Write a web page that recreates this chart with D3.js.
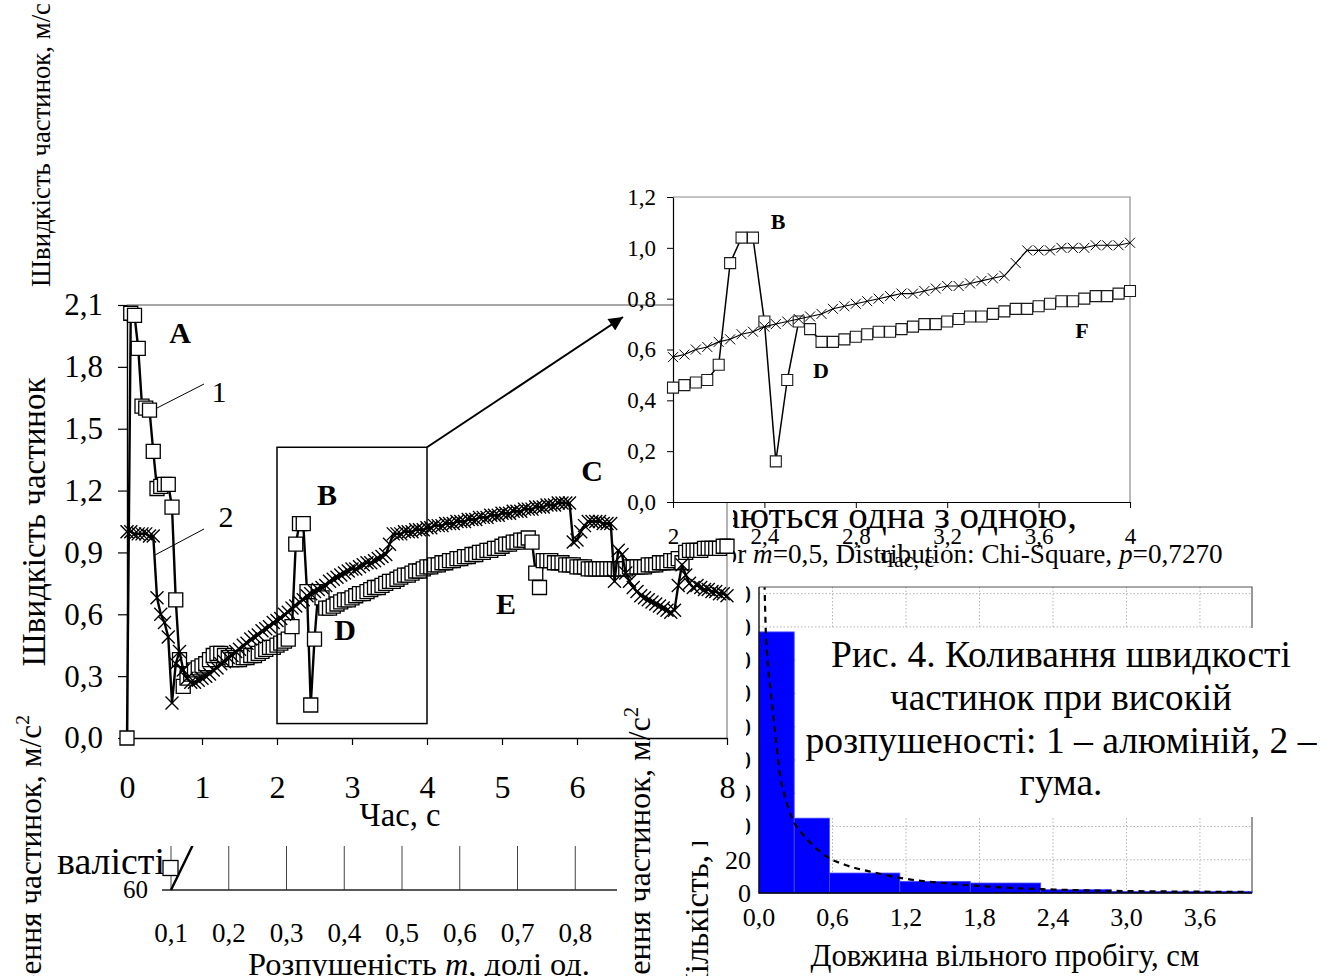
<!DOCTYPE html>
<html lang="uk">
<head>
<meta charset="utf-8">
<title>Швидкість частинок</title>
<script src="https://cdn.jsdelivr.net/npm/d3@7/dist/d3.min.js"></script>
<style>
  html, body { margin: 0; padding: 0; background: #fff; }
  svg { display: block; }
</style>
</head>
<body>
<svg id="chart" width="1329" height="976"></svg>
<script>
// ---------------- data ----------------
// Sampling step of the particle-speed record, s
const timeStep = 0.05;

// Particle speed, m/s — curve 1 (aluminium)
const aluminiumSpeed = [
  0.00, 2.06, 2.05, 1.89, 1.61, 1.60, 1.59, 1.39, 1.21, 1.22,
  1.23, 1.23, 1.12, 0.67, 0.38, 0.25, 0.29, 0.31, 0.33, 0.34,
  0.35, 0.36, 0.38, 0.40, 0.41, 0.41, 0.40, 0.39, 0.38, 0.38,
  0.38, 0.39, 0.39, 0.40, 0.40, 0.41, 0.42, 0.43, 0.44, 0.44,
  0.45, 0.46, 0.47, 0.48, 0.54, 0.94, 1.04, 1.04, 0.71, 0.16,
  0.48, 0.71, 0.68, 0.63, 0.63, 0.64, 0.65, 0.66, 0.67, 0.67,
  0.68, 0.69, 0.70, 0.70, 0.71, 0.72, 0.73, 0.73, 0.74, 0.75,
  0.76, 0.76, 0.77, 0.78, 0.79, 0.79, 0.80, 0.81, 0.81, 0.82,
  0.83, 0.83, 0.84, 0.84, 0.85, 0.85, 0.86, 0.86, 0.87, 0.87,
  0.88, 0.88, 0.89, 0.89, 0.90, 0.90, 0.91, 0.91, 0.92, 0.92,
  0.93, 0.94, 0.94, 0.95, 0.95, 0.96, 0.96, 0.97, 0.95, 0.80,
  0.73, 0.86, 0.86, 0.86, 0.85, 0.85, 0.85, 0.84, 0.84, 0.84,
  0.83, 0.83, 0.83, 0.82, 0.82, 0.82, 0.82, 0.82, 0.82, 0.82,
  0.82, 0.82, 0.82, 0.82, 0.83, 0.83, 0.83, 0.83, 0.83, 0.84,
  0.84, 0.84, 0.85, 0.85, 0.85, 0.86, 0.86, 0.87, 0.85, 0.90,
  0.91, 0.91, 0.91, 0.91, 0.92, 0.92, 0.92, 0.92, 0.92, 0.93,
  0.93
];

// Particle speed, m/s — curve 2 (rubber)
const rubberSpeed = [
  1.00, 1.00, 0.99, 0.99, 0.99, 0.99, 0.98, 0.98, 0.68, 0.60,
  0.56, 0.49, 0.17, 0.36, 0.42, 0.33, 0.29, 0.27, 0.27, 0.28,
  0.29, 0.30, 0.31, 0.33, 0.34, 0.36, 0.37, 0.39, 0.40, 0.42,
  0.43, 0.45, 0.46, 0.48, 0.49, 0.50, 0.52, 0.53, 0.54, 0.56,
  0.57, 0.58, 0.60, 0.61, 0.63, 0.64, 0.66, 0.67, 0.69, 0.70,
  0.71, 0.72, 0.73, 0.74, 0.76, 0.77, 0.78, 0.79, 0.80, 0.81,
  0.82, 0.82, 0.83, 0.84, 0.85, 0.85, 0.86, 0.87, 0.88, 0.89,
  0.94, 0.99, 0.99, 0.99, 1.00, 1.00, 1.00, 1.01, 1.01, 1.01,
  1.02, 1.02, 1.03, 1.03, 1.03, 1.04, 1.04, 1.04, 1.05, 1.05,
  1.05, 1.06, 1.06, 1.06, 1.07, 1.07, 1.07, 1.08, 1.08, 1.08,
  1.09, 1.09, 1.09, 1.10, 1.10, 1.10, 1.11, 1.11, 1.11, 1.12,
  1.12, 1.12, 1.13, 1.13, 1.13, 1.14, 1.14, 1.14, 1.14, 0.95,
  0.96, 1.00, 1.03, 1.05, 1.05, 1.05, 1.05, 1.04, 1.04, 1.04,
  0.76, 0.91, 0.89, 0.80, 0.76, 0.73, 0.71, 0.69, 0.68, 0.67,
  0.66, 0.65, 0.64, 0.63, 0.62, 0.61, 0.62, 0.74, 0.84, 0.79,
  0.75, 0.73, 0.74, 0.73, 0.72, 0.72, 0.71, 0.71, 0.70, 0.70,
  0.69
];

const speedTicks = [0, 0.3, 0.6, 0.9, 1.2, 1.5, 1.8, 2.1];
const timeTicks = [0, 1, 2, 3, 4, 5, 6, 8];

// Enlarged window: time, s and speed, m/s
const zoomTime = [2, 4];
const zoomSpeed = [0.07, 1.41];
const insetSpeedTicks = [0, 0.2, 0.4, 0.6, 0.8, 1.0, 1.2];
const insetTimeTicks = [2, 2.4, 2.8, 3.2, 3.6, 4];

// Free path length histogram
const pathBinEdges = [0, 0.2875, 0.575, 1.15, 1.725, 2.3, 2.875, 3.45, 4.025];
const pathCounts = [157, 45, 12, 7, 6, 2, 1, 1];
const pathTicks = [0, 0.6, 1.2, 1.8, 2.4, 3.0, 3.6];
const countTicks = [0, 20, 40, 60, 80, 100, 120, 140, 160, 180];
const fitPath = [0.045, 0.055, 0.07, 0.1, 0.13, 0.17, 0.22, 0.27, 0.35, 0.45, 0.55, 0.7, 0.9, 1.2, 1.5, 1.8, 2.1, 2.4, 2.8, 3.2, 3.6, 4.0];
const fitCount = [186, 158, 140, 118, 98, 72, 56, 45, 36, 28, 22, 17, 13, 8.5, 6, 4.2, 2.9, 2.1, 1.4, 1.0, 0.8, 0.6];

// Acceleration vs looseness (lower left)
const loosenessTicks = [0.1, 0.2, 0.3, 0.4, 0.5, 0.6, 0.7, 0.8, 0.9];
const looseLineM = [0.1, 0.2];
const looseLineA = [60, 83.8];
const looseMarkM = [0.1];
const looseMarkA = [64.4];

// ---------------- helpers ----------------
const SERIF = '"Liberation Serif", "Times New Roman", serif';
const comma = (d, p) => d.toFixed(p).replace(".", ",");
const svg = d3.select("#chart");
const defs = svg.append("defs");

function txt(parent, str, x, y, size, opts = {}) {
  const t = parent.append("text")
    .attr("x", x).attr("y", y)
    .attr("font-family", SERIF)
    .attr("font-size", size)
    .attr("fill", "#000")
    .attr("text-anchor", opts.anchor || "start");
  if (opts.weight) t.attr("font-weight", opts.weight);
  if (str !== null) t.text(str);
  return t;
}
// scale the font so that characters [from, to) occupy `span` pixels
function fitSpan(t, span, from = 0, to = null) {
  const n = t.node();
  const count = to === null ? n.getNumberOfChars() - from : to - from;
  const len = n.getSubStringLength(from, count);
  t.attr("font-size", parseFloat(t.attr("font-size")) * span / len);
}
function clipRect(id, x, y, w, h) {
  defs.append("clipPath").attr("id", id)
    .append("rect").attr("x", x).attr("y", y).attr("width", w).attr("height", h);
  return `url(#${id})`;
}
function vText(parent, x, y, size, anchor) {
  return parent.append("text")
    .attr("transform", `translate(${x},${y}) rotate(-90)`)
    .attr("font-family", SERIF).attr("font-size", size)
    .attr("fill", "#000").attr("text-anchor", anchor);
}
// rotated "Прискорення частинок, м/с²" whose end sits at (x, yEnd)
function accelLabel(parent, x, yEnd, span) {
  const t = vText(parent, x, yEnd, 30, "end");
  t.append("tspan").text("Прискорення частинок, м/с");
  const sup = t.append("tspan").attr("dy", -12).text("2");
  fitSpan(t, span, 7, 25);
  sup.attr("font-size", parseFloat(t.attr("font-size")) * 0.62);
  return t;
}

svg.append("rect").attr("width", 1329).attr("height", 976).attr("fill", "#fff");

// ---------------- lower left: acceleration vs looseness ----------------
{
  const g = svg.append("g").attr("clip-path", clipRect("clipLoose", 0, 846, 617, 130));
  const xl = d3.scaleLinear().domain([0.1, 0.9]).range([171, 633]);
  const yl = d3.scaleLinear().domain([60, 100]).range([890, 690]);
  loosenessTicks.forEach(m => {
    g.append("line").attr("x1", xl(m)).attr("x2", xl(m)).attr("y1", 846).attr("y2", yl(60))
      .attr("stroke", "#444").attr("stroke-width", 1);
  });
  g.append("line").attr("x1", 162).attr("x2", 617).attr("y1", yl(60)).attr("y2", yl(60))
    .attr("stroke", "#222").attr("stroke-width", 1.3);
  loosenessTicks.forEach(m => txt(g, comma(m, 1), xl(m), 942, 27, { anchor: "middle" }));
  txt(g, "60", 148, 898, 25, { anchor: "end" });

  const t = txt(g, "валісті", 57, 874, 35);
  fitSpan(t, 108);

  g.append("path")
    .attr("d", d3.line().x((d, i) => xl(looseLineM[i])).y((d, i) => yl(looseLineA[i]))(looseLineM))
    .attr("fill", "none").attr("stroke", "#000").attr("stroke-width", 2.4);
  looseMarkM.forEach((m, i) => {
    g.append("rect").attr("x", xl(m) - 8).attr("y", yl(looseMarkA[i]) - 7.5)
      .attr("width", 15).attr("height", 15).attr("fill", "#fff").attr("stroke", "#000").attr("stroke-width", 1.3);
  });

  const title = txt(g, null, 419, 975, 31, { anchor: "middle" });
  title.append("tspan").text("Розпушеність ");
  title.append("tspan").attr("font-style", "italic").text("m");
  title.append("tspan").text(", долі од.");
  fitSpan(title, 342);

  // axis title of the neighbouring chart on the far left
  accelLabel(svg, 41, 715, 250);
}

// ---------------- free path histogram (lower right) ----------------
{
  const g = svg.append("g");
  const xh = d3.scaleLinear().domain([0, 4.025]).range([759, 1252]);
  const yh = d3.scaleLinear().domain([0, 184]).range([893, 587]);

  // dotted grid
  countTicks.slice(1).forEach(c => g.append("line")
    .attr("x1", xh(0)).attr("x2", xh(4.025)).attr("y1", yh(c)).attr("y2", yh(c))
    .attr("stroke", "#b4b4b4").attr("stroke-width", 1).attr("stroke-dasharray", "1.5,2"));
  pathTicks.slice(1).forEach(p => g.append("line")
    .attr("x1", xh(p)).attr("x2", xh(p)).attr("y1", yh(184)).attr("y2", yh(0))
    .attr("stroke", "#b4b4b4").attr("stroke-width", 1).attr("stroke-dasharray", "1.5,2"));

  // bars
  g.selectAll("rect.bar").data(pathCounts).join("rect").attr("class", "bar")
    .attr("x", (d, i) => xh(pathBinEdges[i]))
    .attr("width", (d, i) => xh(pathBinEdges[i + 1]) - xh(pathBinEdges[i]))
    .attr("y", d => yh(d)).attr("height", d => yh(0) - yh(d))
    .attr("fill", "#0000ff").attr("stroke", "#4a4aff").attr("stroke-width", 0.8);

  // fitted chi-square density
  g.append("path")
    .attr("clip-path", clipRect("clipHist", xh(0), yh(184), xh(4.025) - xh(0), yh(0) - yh(184)))
    .attr("d", d3.line().x((d, i) => xh(fitPath[i])).y((d, i) => yh(fitCount[i])).curve(d3.curveMonotoneX)(fitPath))
    .attr("fill", "none").attr("stroke", "#000").attr("stroke-width", 2.2).attr("stroke-dasharray", "6,5");

  // frame
  g.append("path").attr("d", `M${xh(0)},${yh(184)}H${xh(4.025)}V${yh(0)}`)
    .attr("fill", "none").attr("stroke", "#555").attr("stroke-width", 1.2);
  g.append("path").attr("d", `M${xh(0)},${yh(184)}V${yh(0)}H${xh(4.025)}`)
    .attr("fill", "none").attr("stroke", "#000").attr("stroke-width", 1.3);

  pathTicks.forEach(p => txt(g, comma(p, 1), xh(p), 926, 26, { anchor: "middle" }));
  const hidden = g.append("g").attr("clip-path", clipRect("clipCounts", 746, 560, 20, 290));
  countTicks.forEach(c => txt(c >= 40 ? hidden : g, String(c), 751, yh(c) + 9, 26, { anchor: "end" }));

  const xt = txt(g, "Довжина вільного пробігу, см", 1005, 966, 28, { anchor: "middle" });
  fitSpan(xt, 389);

  // white cover with the right-hand labels of the acceleration chart
  g.append("rect").attr("x", 618).attr("y", 748).attr("width", 98).attr("height", 228).attr("fill", "#fff");
  accelLabel(g, 650, 707, 258);

  const cnt = vText(g.append("g").attr("clip-path", clipRect("clipCnt", 680, 842, 40, 140)), 708, 0, 33, "start");
  cnt.text("Кількість, шт");
  const l1 = cnt.node().getSubStringLength(0, 10);
  cnt.attr("transform", `translate(708,${855 + l1}) rotate(-90)`);
}

// ---------------- main chart: particle speed vs time ----------------
const x = d3.scaleLinear().domain([0, 8]).range([127, 727]);
const y = d3.scaleLinear().domain([0, 2.1]).range([738, 305]);
const time = aluminiumSpeed.map((_, i) => Math.round(i * timeStep * 100) / 100);
const aluminium = time.map((t, i) => ({ t, v: aluminiumSpeed[i] }));
const rubber = time.map((t, i) => ({ t, v: rubberSpeed[i] }));

const squarePath = s => `M${-s / 2},${-s / 2}h${s}v${s}h${-s}Z`;
const timesPath = s => `M${-s / 2},${-s / 2}L${s / 2},${s / 2}M${-s / 2},${s / 2}L${s / 2},${-s / 2}`;

function drawSeries(g, data, sx, sy, o) {
  g.append("path")
    .attr("d", d3.line().x(d => sx(d.t)).y(d => sy(d.v))(data))
    .attr("fill", "none").attr("stroke", "#000").attr("stroke-width", o.lineWidth)
    .attr("stroke-linejoin", "round");
  g.selectAll(null).data(data).join("path")
    .attr("transform", d => `translate(${sx(d.t)},${sy(d.v)})`)
    .attr("d", o.square ? squarePath(o.size) : timesPath(o.size))
    .attr("fill", o.square ? "#fff" : "none")
    .attr("stroke", o.markStroke).attr("stroke-width", o.markWidth);
}

{
  const g = svg.append("g");
  g.append("path").attr("d", `M${x(0)},${y(2.1)}H${x(8)}V${y(0)}`)
    .attr("fill", "none").attr("stroke", "#8a8a8a").attr("stroke-width", 1.3);

  g.append("g").attr("transform", `translate(${x(0)},0)`)
    .call(d3.axisLeft(y).tickValues(speedTicks).tickFormat(d => comma(d, 1)).tickSize(9).tickSizeOuter(0).tickPadding(15))
    .call(a => {
      a.select(".domain").attr("stroke", "#000").attr("stroke-width", 1.4);
      a.selectAll(".tick line").attr("stroke", "#000").attr("stroke-width", 1.2);
      a.selectAll("text").attr("font-family", SERIF).attr("font-size", 31).attr("fill", "#000");
    });
  g.append("g").attr("transform", `translate(0,${y(0)})`)
    .call(d3.axisBottom(x).tickValues(timeTicks).tickFormat(d => d).tickSize(7).tickSizeOuter(0).tickPadding(30))
    .call(a => {
      a.select(".domain").attr("stroke", "#000").attr("stroke-width", 1.3);
      a.selectAll(".tick line").attr("stroke", "#000").attr("stroke-width", 1.2);
      a.selectAll("text").attr("font-family", SERIF).attr("font-size", 32).attr("fill", "#000");
    });

  const xt = txt(g, "Час, с", 400, 826, 32, { anchor: "middle" });
  fitSpan(xt, 81);

  const yt1 = vText(g, 50, 145, 28, "middle").text("Швидкість частинок, м/с");
  fitSpan(yt1, 284);
  const yt2 = vText(g, 45, 522, 30, "middle").text("Швидкість частинок");
  fitSpan(yt2, 289);

  drawSeries(g, aluminium, x, y, { square: true, size: 14, lineWidth: 2.4, markStroke: "#000", markWidth: 1.3 });
  drawSeries(g, rubber, x, y, { square: false, size: 13, lineWidth: 2.4, markStroke: "#000", markWidth: 1.4 });

  // enlarged window and its pointer
  g.append("rect").attr("x", x(zoomTime[0])).attr("y", y(zoomSpeed[1]))
    .attr("width", x(zoomTime[1]) - x(zoomTime[0])).attr("height", y(zoomSpeed[0]) - y(zoomSpeed[1]))
    .attr("fill", "none").attr("stroke", "#000").attr("stroke-width", 1.5);
  defs.append("marker").attr("id", "arrowHead").attr("viewBox", "0 0 10 10")
    .attr("refX", 10).attr("refY", 5).attr("markerWidth", 22).attr("markerHeight", 14)
    .attr("markerUnits", "userSpaceOnUse").attr("orient", "auto")
    .append("path").attr("d", "M0,0L10,5L0,10Z").attr("fill", "#000");
  g.append("line").attr("x1", x(zoomTime[1])).attr("y1", y(zoomSpeed[1]))
    .attr("x2", 623).attr("y2", 317)
    .attr("stroke", "#000").attr("stroke-width", 2).attr("marker-end", "url(#arrowHead)");

  // point labels
  [["A", 180, 343], ["B", 327, 505], ["C", 592, 481], ["D", 345, 640], ["E", 506, 614]]
    .forEach(([s, px, py]) => txt(g, s, px, py, 30, { anchor: "middle", weight: "bold" }));
  txt(g, "1", 219, 402, 30, { anchor: "middle" });
  txt(g, "2", 226, 527, 30, { anchor: "middle" });
  g.append("line").attr("x1", 204).attr("y1", 384).attr("x2", 157).attr("y2", 408).attr("stroke", "#000").attr("stroke-width", 1);
  g.append("line").attr("x1", 204).attr("y1", 529).attr("x2", 155).attr("y2", 555).attr("stroke", "#000").attr("stroke-width", 1);
}

// ---------------- inset: enlarged 2–4 s ----------------
{
  const g = svg.append("g");
  const xi = d3.scaleLinear().domain(zoomTime).range([673, 1130]);
  const yi = d3.scaleLinear().domain([0, 1.2]).range([502, 197]);
  const inWin = d => d.t >= zoomTime[0] - 1e-9 && d.t <= zoomTime[1] + 1e-9;

  g.append("rect").attr("x", xi(2)).attr("y", yi(1.2)).attr("width", xi(4) - xi(2)).attr("height", yi(0) - yi(1.2)).attr("fill", "#fff");
  g.append("path").attr("d", `M${xi(2)},${yi(1.2)}H${xi(4)}V${yi(0)}`)
    .attr("fill", "none").attr("stroke", "#8a8a8a").attr("stroke-width", 1.2);

  g.append("g").attr("transform", `translate(${xi(2)},0)`)
    .call(d3.axisLeft(yi).tickValues(insetSpeedTicks).tickFormat(d => comma(d, 1)).tickSize(6).tickSizeOuter(0).tickPadding(11))
    .call(a => {
      a.select(".domain").attr("stroke", "#000").attr("stroke-width", 1.2);
      a.selectAll(".tick line").attr("stroke", "#000");
      a.selectAll("text").attr("font-family", SERIF).attr("font-size", 23).attr("fill", "#000");
    });
  g.append("g").attr("transform", `translate(0,${yi(0)})`)
    .call(d3.axisBottom(xi).tickValues(insetTimeTicks).tickFormat(d => String(d).replace(".", ",")).tickSize(6).tickSizeOuter(0).tickPadding(20))
    .call(a => {
      a.select(".domain").attr("stroke", "#000").attr("stroke-width", 1.2);
      a.selectAll(".tick line").attr("stroke", "#000");
      a.selectAll("text").attr("font-family", SERIF).attr("font-size", 23).attr("fill", "#000");
    });
  txt(g, "Час, с", 907, 567, 22, { anchor: "middle" });

  drawSeries(g, aluminium.filter(inWin), xi, yi, { square: true, size: 11, lineWidth: 1.5, markStroke: "#1a1a1a", markWidth: 1.1 });
  drawSeries(g, rubber.filter(inWin), xi, yi, { square: false, size: 10, lineWidth: 1.1, markStroke: "#000", markWidth: 1 });

  [["B", 778, 229], ["D", 821, 378], ["F", 1082, 338]]
    .forEach(([s, px, py]) => txt(g, s, px, py, 22, { anchor: "middle", weight: "bold" }));
}

// ---------------- overlapping text lines ----------------
{
  const g = svg.append("g").attr("clip-path", clipRect("clipOver", 733, 480, 600, 100));
  const a = txt(g, "аються одна з одною,", 0, 528, 36);
  fitSpan(a, 337, 1);
  a.attr("x", 740 - a.node().getSubStringLength(0, 1));

  const b = txt(g, null, 0, 563, 26);
  b.append("tspan").text("for ");
  b.append("tspan").attr("font-style", "italic").text("m");
  b.append("tspan").text("=0,5, Distribution: Chi-Square, ");
  b.append("tspan").attr("font-style", "italic").text("p");
  b.append("tspan").text("=0,7270");
  fitSpan(b, 470, 4);
  b.attr("x", 753 - b.node().getSubStringLength(0, 4));
}

// ---------------- caption ----------------
{
  const g = svg.append("g");
  g.append("rect").attr("x", 797).attr("y", 628).attr("width", 532).attr("height", 189).attr("fill", "#fff");
  const lines = [
    ["Рис. 4. Коливання швидкості", 667, 460],
    ["частинок при високій", 710, 342],
    ["розпушеності: 1 – алюміній, 2 –", 753, 511],
    ["гума.", 795, 83]
  ];
  lines.forEach(([s, py, span]) => {
    const t = txt(g, s, 1061, py, 36, { anchor: "middle" });
    fitSpan(t, span);
  });
}
</script>
</body>
</html>
